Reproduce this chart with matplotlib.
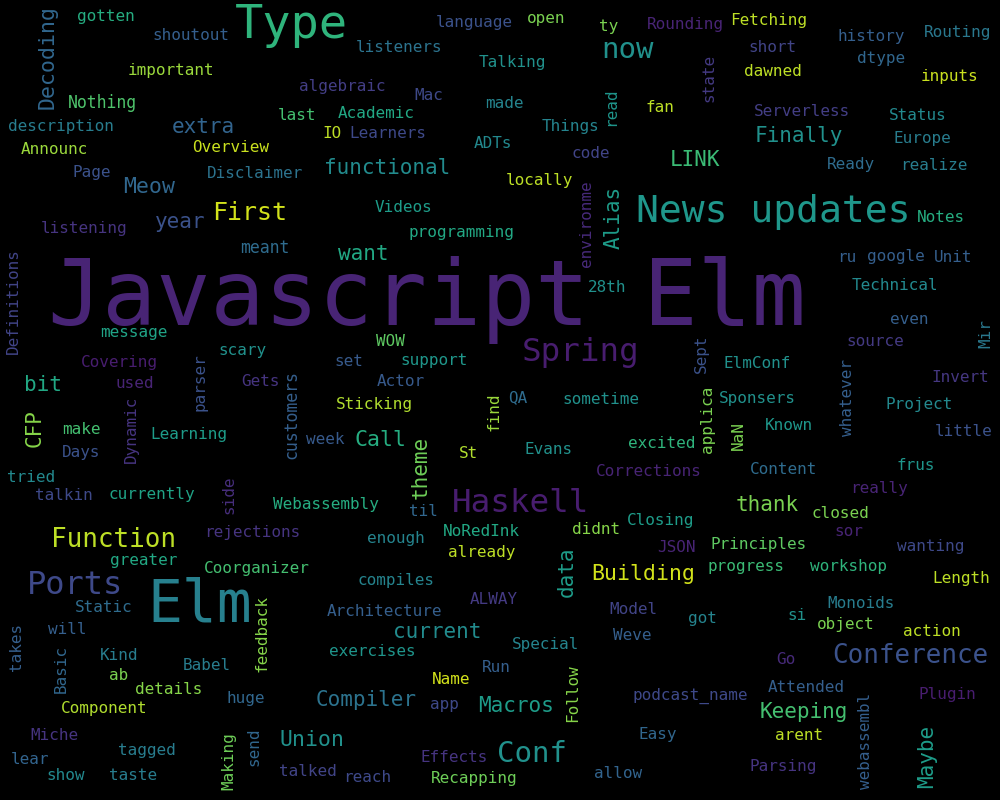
import matplotlib
matplotlib.use("Agg")
import matplotlib.pyplot as plt

# ---- word data (word, relative size in px, viridis colour value) ----
words = [
    "Javascript Elm", "Type", "News updates", "Elm", "Spring", "Haskell", "Ports",
    "now", "Conf", "Function", "Conference", "First", "Building",
    "extra", "functional", "Meow", "year", "Alias", "want", "Finally", "LINK",
    "bit", "CFP", "Call", "theme", "thank", "data", "current", "Compiler",
    "Macros", "Union", "Keeping", "Maybe",
    "Decoding", "gotten", "shoutout", "important", "algebraic", "Nothing", "last",
    "Academic", "description", "IO", "Learners", "Announc", "Overview", "Page",
    "Disclaimer", "listening", "meant", "Definitions",
    "language", "open", "ty", "Rounding", "listeners", "Talking", "Mac", "made",
    "read", "fan", "Things", "ADTs", "code", "locally", "Videos", "environme",
    "programming",
    "Fetching", "history", "Routing", "short", "state", "dtype", "dawned", "inputs",
    "Serverless", "Status", "Europe", "Ready", "realize", "Notes", "ru", "google", "Unit",
    "message", "scary", "Covering", "used", "Gets", "parser", "customers", "Dynamic",
    "make", "Learning", "Days", "week", "tried", "talkin", "currently", "side",
    "Webassembly", "rejections",
    "28th", "WOW", "set", "support", "Actor", "Sticking", "find", "QA", "sometime",
    "St", "Evans", "excited", "Corrections", "til", "NoRedInk", "didnt", "Closing",
    "enough",
    "Technical", "even", "source", "Mir", "Sept", "ElmConf", "whatever", "Invert",
    "applica", "Sponsers", "Project", "NaN", "Known", "little", "frus", "Content",
    "really", "closed", "sor",
    "greater", "Coorganizer", "Static", "will", "takes", "Basic", "feedback", "Kind",
    "ab", "Babel", "details", "huge", "Component", "Miche", "tagged", "lear", "show",
    "taste", "Making", "send", "talked",
    "already", "compiles", "ALWAY", "Architecture", "Model", "Weve", "exercises",
    "Special", "Run", "Follow", "Name", "app", "podcast_name", "Easy", "Effects",
    "reach", "Recapping", "allow",
    "JSON", "Principles", "wanting", "progress", "workshop", "Length", "Monoids",
    "got", "si", "object", "action", "Go", "Attended", "Plugin", "webassembl",
    "arent", "Parsing",
]

sizes_px = [
    90, 47, 38, 58, 32.5, 32.5, 32,
    29, 29, 26, 26, 25, 21.5,
    21, 21, 21.5, 21, 21, 21, 21, 21,
    21, 21, 21.5, 21, 21, 21, 21, 21,
    21, 21.5, 21, 21,
    21.5, 16, 16, 16, 16, 16.5, 16,
    16, 16, 16, 16, 16, 16, 16,
    16, 16, 16.5, 16,
    16, 16, 16, 16, 16, 16, 16, 16,
    16, 16, 16, 16, 16, 16, 16, 16,
    16,
    16, 16, 16, 16, 16, 16, 16, 16,
    16, 16, 16, 16, 16, 16, 16, 16, 16,
    16, 16, 16, 16, 16, 16, 16.5, 16,
    16, 16, 16, 16, 16, 16, 16, 16,
    16, 16,
    16, 16, 16, 16, 16, 16, 16, 16, 16,
    16, 16, 16, 16, 16, 16, 16, 16,
    16,
    16, 16, 16, 16, 16, 16, 16, 16,
    16, 16, 16, 16, 16, 16, 16, 16,
    16, 16, 16,
    16, 16, 16, 16, 16, 16, 16, 16,
    16, 16, 16, 16, 16, 16, 16, 16, 16,
    16, 16, 16, 16,
    16, 16, 16, 16, 16, 16, 16,
    16, 16, 16, 16, 16, 16, 16, 16,
    16, 16, 16,
    16, 16, 16, 16, 16, 16, 16,
    16, 16, 16, 16, 16, 16, 16, 16,
    16, 16,
]

colour_vals = [
    0.10, 0.65, 0.53, 0.43, 0.08, 0.08, 0.22,
    0.50, 0.50, 0.90, 0.25, 0.93, 0.93,
    0.32, 0.48, 0.33, 0.25, 0.55, 0.60, 0.50, 0.68,
    0.60, 0.82, 0.62, 0.78, 0.80, 0.55, 0.48, 0.38,
    0.55, 0.50, 0.70, 0.55,
    0.33, 0.62, 0.30, 0.85, 0.18, 0.72, 0.70,
    0.60, 0.42, 0.90, 0.22, 0.85, 0.92, 0.25,
    0.38, 0.15, 0.35, 0.20,
    0.25, 0.80, 0.80, 0.10, 0.38, 0.50, 0.22, 0.45,
    0.52, 0.90, 0.45, 0.47, 0.20, 0.90, 0.55, 0.12,
    0.60,
    0.90, 0.30, 0.40, 0.20, 0.17, 0.33, 0.90, 0.92,
    0.18, 0.47, 0.42, 0.35, 0.42, 0.62, 0.30, 0.30, 0.30,
    0.58, 0.50, 0.08, 0.10, 0.15, 0.25, 0.30, 0.15,
    0.70, 0.55, 0.25, 0.28, 0.47, 0.22, 0.58, 0.13,
    0.62, 0.15,
    0.50, 0.75, 0.28, 0.53, 0.28, 0.88, 0.85, 0.35, 0.50,
    0.88, 0.50, 0.65, 0.10, 0.33, 0.60, 0.82, 0.55,
    0.45,
    0.47, 0.30, 0.17, 0.40, 0.25, 0.50, 0.30, 0.16,
    0.80, 0.50, 0.47, 0.80, 0.53, 0.25, 0.52, 0.35,
    0.10, 0.80, 0.10,
    0.60, 0.70, 0.35, 0.30, 0.30, 0.33, 0.82, 0.42,
    0.80, 0.42, 0.82, 0.33, 0.88, 0.15, 0.42, 0.32, 0.47,
    0.42, 0.78, 0.33, 0.20,
    0.90, 0.45, 0.17, 0.30, 0.20, 0.30, 0.52,
    0.45, 0.30, 0.82, 0.93, 0.22, 0.22, 0.33, 0.15,
    0.22, 0.78, 0.32,
    0.10, 0.75, 0.22, 0.68, 0.65, 0.90, 0.42,
    0.45, 0.50, 0.80, 0.90, 0.12, 0.30, 0.08, 0.30,
    0.90, 0.15,
]

# ---- layout of the cloud (centre of each word box, orientation) ----
pos_x = [
    427, 291, 773, 200, 581, 521, 75,
    628, 532, 113, 910, 250, 643,
    203, 387, 149, 180, 614, 363, 799, 695,
    43, 35, 381, 421, 767, 567, 437, 366,
    516, 312, 804, 927,
    48, 106, 191, 171, 342, 102, 297,
    376, 61, 332, 388, 54, 231, 92,
    255, 84, 265, 13,
    474, 546, 609, 685, 399, 512, 429, 504,
    611, 660, 571, 493, 591, 539, 403, 586,
    461,
    769, 871, 958, 772, 709, 881, 773, 950,
    802, 918, 922, 851, 934, 941, 847, 896, 953,
    134, 242, 119, 135, 261, 200, 291, 131,
    81, 189, 81, 325, 31, 64, 152, 229,
    326, 252,
    607, 390, 349, 434, 401, 374, 494, 518, 601,
    468, 549, 662, 649, 423, 481, 596, 661,
    396,
    895, 909, 875, 986, 701, 757, 848, 960,
    708, 757, 919, 738, 789, 964, 916, 784,
    879, 840, 849,
    144, 257, 104, 67, 16, 61, 262, 119,
    119, 207, 169, 246, 104, 54, 147, 30, 66,
    133, 229, 254, 308,
    482, 396, 494, 384, 633, 632, 372,
    546, 496, 573, 451, 444, 690, 658, 454,
    367, 474, 618,
    676, 759, 931, 746, 848, 961, 861,
    702, 797, 846, 932, 786, 806, 947, 866,
    799, 783,
]

pos_y = [
    300, 26, 212, 605, 353, 504, 585,
    50, 754, 540, 656, 213, 574,
    127, 168, 187, 222, 217, 254, 136, 160,
    385, 428, 440, 467, 505, 572, 632, 700,
    706, 740, 712, 756,
    57, 16, 36, 70, 87, 103, 115,
    114, 126, 134, 134, 149, 148, 172,
    173, 229, 248, 301,
    22, 19, 27, 25, 47, 62, 96, 104,
    107, 108, 126, 144, 153, 180, 208, 224,
    233,
    20, 36, 32, 48, 78, 58, 71, 76,
    111, 116, 138, 165, 165, 217, 257, 257, 257,
    333, 351, 363, 384, 381, 382, 415, 429,
    430, 435, 452, 439, 478, 496, 494, 495,
    505, 532,
    287, 342, 361, 361, 381, 404, 412, 398, 400,
    454, 449, 443, 472, 512, 532, 529, 520,
    539,
    286, 320, 342, 334, 354, 363, 398, 377,
    419, 399, 404, 436, 425, 432, 466, 470,
    489, 513, 531,
    560, 569, 608, 630, 647, 669, 633, 656,
    675, 666, 689, 699, 709, 735, 750, 759, 776,
    776, 761, 747, 771,
    553, 581, 600, 611, 610, 636, 651,
    645, 667, 693, 680, 704, 696, 735, 757,
    778, 778, 773,
    548, 544, 546, 567, 567, 578, 603,
    618, 616, 625, 631, 660, 687, 695, 741,
    735, 767,
]

vertical_words = {"Alias", "CFP", "theme", "data", "Maybe", "Decoding", "Definitions",
                  "read", "environme", "state", "parser", "customers", "Dynamic",
                  "side", "find", "Mir", "Sept", "whatever", "applica", "NaN",
                  "takes", "Basic", "feedback", "Making", "send", "Follow",
                  "webassembl"}

W, H = 1000, 800
fig = plt.figure(figsize=(W / 100, H / 100), dpi=100, facecolor="black")
ax = fig.add_axes([0, 0, 1, 1])
ax.set_facecolor("black")
ax.set_xlim(0, W)
ax.set_ylim(H, 0)
ax.axis("off")

cmap = plt.get_cmap("viridis")
for w, s, c, x, y in zip(words, sizes_px, colour_vals, pos_x, pos_y):
    ax.text(x, y, w, fontsize=s * 0.72, color=cmap(c),
            family="DejaVu Sans Mono", ha="center", va="center",
            rotation=90 if w in vertical_words else 0)

fig.savefig("out.png", dpi=100, facecolor="black")
